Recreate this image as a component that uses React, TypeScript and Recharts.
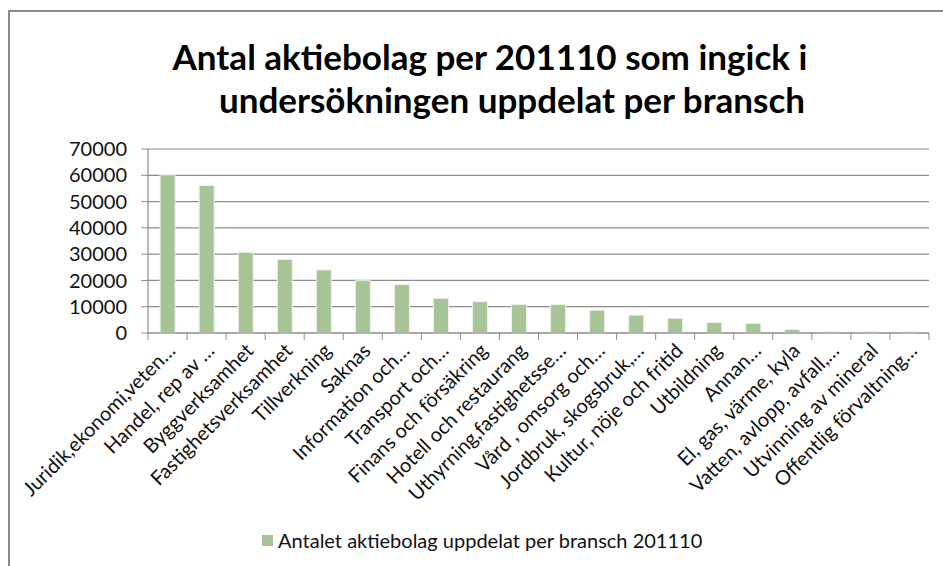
import { BarChart, Bar, XAxis, YAxis, CartesianGrid } from "recharts";

const categories = [
  "Juridik,ekonomi,veten…",
  "Handel, rep av …",
  "Byggverksamhet",
  "Fastighetsverksamhet",
  "Tillverkning",
  "Saknas",
  "Information och…",
  "Transport och…",
  "Finans och försäkring",
  "Hotell och restaurang",
  "Uthyrning,fastighetsse…",
  "Vård , omsorg och…",
  "Jordbruk, skogsbruk,…",
  "Kultur, nöje och fritid",
  "Utbildning",
  "Annan…",
  "El, gas, värme, kyla",
  "Vatten, avlopp, avfall,…",
  "Utvinning av mineral",
  "Offentlig förvaltning…",
];

const counts = [
  60200, 56100, 30700, 28000, 24000, 19900, 18400, 13200, 11900, 10800,
  10800, 8700, 6800, 5600, 4000, 3700, 1300, 550, 500, 450,
];

const yTicks = [0, 10000, 20000, 30000, 40000, 50000, 60000, 70000];

const seriesName = "Antalet aktiebolag uppdelat per bransch 201110";
const titleLines = [
  "Antal aktiebolag per 201110 som ingick i",
  "undersökningen uppdelat per bransch",
];

const W = 943;
const H = 566;
const PLOT_LEFT = 148;
const PLOT_RIGHT = 929;
const PLOT_TOP = 149;
const PLOT_BOTTOM = 333;
const STEP = (PLOT_RIGHT - PLOT_LEFT) / categories.length;

const FONT = "Lato, 'Open Sans', sans-serif";
const GRID = "#8c8c8c";
const BAR = "#a7c497";

const data = categories.map((name, i) => ({ name, value: counts[i] }));

// category label plus the tick marks that sit between categories
const CategoryTick = (props: any) => {
  const { x, y, payload, index } = props;
  const last = index === categories.length - 1;
  const tx = x + 9;
  const ty = y + 19;
  return (
    <g>
      <line x1={x - STEP / 2} y1={y} x2={x - STEP / 2} y2={y + 7} stroke={GRID} />
      {last && <line x1={x + STEP / 2} y1={y} x2={x + STEP / 2} y2={y + 7} stroke={GRID} />}
      <text
        x={tx}
        y={ty}
        transform={`rotate(-45, ${tx}, ${ty})`}
        textAnchor="end"
        fontSize={20}
        fontFamily={FONT}
        fill="#111"
      >
        {payload.value}
      </text>
    </g>
  );
};

export default function App() {
  return (
    <div
      style={{
        position: "fixed",
        left: 0,
        top: 0,
        width: W,
        height: H,
        overflow: "hidden",
        background: "#fff",
        fontFamily: FONT,
      }}
    >
      <div
        style={{
          position: "absolute",
          left: 8,
          top: 10,
          width: W + 40,
          height: H + 40,
          border: "2px solid #8a8a8a",
        }}
      />
      {titleLines.map((t, i) => (
        <div
          key={i}
          style={{
            position: "absolute",
            top: i === 0 ? 39 : 82,
            left: i === 0 ? 490 - 400 : 512 - 400,
            width: 800,
            textAlign: "center",
            fontSize: 35,
            fontWeight: 700,
            lineHeight: 1,
            color: "#000",
            whiteSpace: "nowrap",
          }}
        >
          {t}
        </div>
      ))}
      <div style={{ position: "absolute", left: 0, top: 0 }}>
        <BarChart
          width={W}
          height={H}
          data={data}
          margin={{ top: PLOT_TOP, right: W - PLOT_RIGHT, bottom: 0, left: 0 }}
          barCategoryGap="31%"
        >
          <CartesianGrid vertical={false} stroke={GRID} strokeWidth={1.2} />
          <XAxis
            dataKey="name"
            interval={0}
            height={H - PLOT_BOTTOM}
            tickSize={0}
            tickMargin={0}
            tickLine={false}
            axisLine={{ stroke: GRID, strokeWidth: 1.2 }}
            tick={<CategoryTick />}
          />
          <YAxis
            width={PLOT_LEFT}
            domain={[0, 70000]}
            ticks={yTicks}
            interval={0}
            tickSize={7}
            tickMargin={14}
            axisLine={{ stroke: GRID, strokeWidth: 1.2 }}
            tickLine={{ stroke: GRID }}
            tick={{ fontSize: 20, fontFamily: FONT, fill: "#111" }}
          />
          <Bar
            dataKey="value"
            name={seriesName}
            fill={BAR}
            stroke="#eef3e8"
            strokeWidth={1}
            isAnimationActive={false}
          />
        </BarChart>
      </div>
      <div
        style={{
          position: "absolute",
          left: 262,
          top: 530,
          display: "flex",
          alignItems: "center",
          fontSize: 20,
          lineHeight: 1,
          color: "#111",
          whiteSpace: "nowrap",
        }}
      >
        <span
          style={{
            display: "inline-block",
            width: 11,
            height: 11,
            background: BAR,
            marginRight: 5,
          }}
        />
        {seriesName}
      </div>
    </div>
  );
}
